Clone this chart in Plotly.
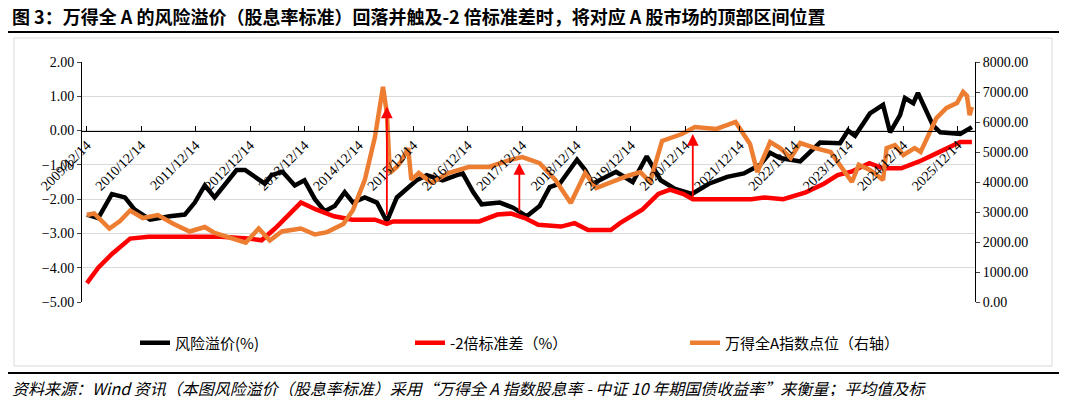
import plotly.graph_objects as go

rp_dates = ["2009-12-15","2010-03-01","2010-06-01","2010-08-27","2010-10-30","2011-02-12","2011-06-24","2011-10-03","2011-12-09",
"2012-02-14","2012-04-20","2012-06-26","2012-09-14","2012-11-10","2013-01-14","2013-03-23","2013-05-07","2013-07-20","2013-10-10",
"2013-12-14","2014-02-22","2014-04-29","2014-07-05","2014-09-10","2014-11-05","2015-01-23","2015-04-14","2015-06-20","2015-08-26",
"2015-10-30","2016-01-05","2016-03-14","2016-06-28","2016-10-02","2016-11-10","2017-01-20","2017-03-17","2017-07-17","2017-10-14",
"2018-01-14","2018-04-10","2018-06-17","2018-08-23","2018-12-17","2019-02-10","2019-04-01","2019-09-05","2019-12-26","2020-03-29",
"2020-07-01","2020-10-05","2021-01-26","2021-05-20","2021-09-20","2022-01-10","2022-04-28","2022-07-05","2022-09-10","2023-01-23",
"2023-06-05","2023-10-17","2023-12-10","2024-01-26","2024-05-05","2024-08-01","2024-09-17","2024-11-23","2024-12-26","2025-02-20",
"2025-03-23","2025-05-10","2025-07-02","2025-08-20","2026-01-01","2026-03-20"]
rp_vals = [-2.45,-2.55,-1.85,-1.95,-2.3,-2.6,-2.5,-2.45,-2.1,
-1.6,-1.95,-1.6,-1.15,-1.15,-1.35,-1.55,-1.3,-1.2,-1.6,
-1.45,-2.0,-2.35,-2.2,-1.8,-2.1,-1.95,-2.1,-2.65,-1.95,
-1.7,-1.45,-1.3,-1.45,-1.3,-1.25,-1.8,-2.15,-2.1,-2.25,
-2.5,-2.2,-1.65,-1.55,-0.85,-1.15,-1.55,-1.2,-1.5,-0.75,
-1.45,-1.7,-1.85,-1.55,-1.35,-1.25,-1.0,-0.65,-0.8,-0.9,
-0.35,-0.37,0.0,-0.15,0.5,0.75,-0.05,0.45,0.95,0.8,
1.1,0.65,0.15,-0.05,-0.1,0.1]

sd_dates = ["2009-12-15","2010-03-01","2010-06-01","2010-10-01","2011-02-01","2012-06-01","2012-12-01","2013-03-01","2013-06-01",
"2013-09-01","2013-11-20","2014-03-01","2014-07-01","2014-11-01","2015-04-01","2015-06-20","2015-08-01","2016-06-01","2017-03-01",
"2017-07-01","2017-10-01","2018-01-01","2018-04-01","2018-09-01","2018-12-01","2019-03-01","2019-08-01","2019-10-01","2020-03-01",
"2020-06-15","2020-09-01","2020-12-01","2021-02-01","2021-06-01","2022-03-01","2022-06-01","2022-10-01","2023-03-01","2023-07-01",
"2023-10-01","2024-01-01","2024-05-01","2024-08-01","2024-12-01","2025-04-01","2025-08-01","2025-11-01","2026-01-01","2026-03-20"]
sd_vals = [-4.45,-4.0,-3.6,-3.15,-3.1,-3.1,-3.15,-3.2,-2.85,
-2.45,-2.1,-2.3,-2.5,-2.6,-2.6,-2.72,-2.65,-2.65,-2.65,
-2.45,-2.42,-2.55,-2.75,-2.8,-2.7,-2.9,-2.9,-2.7,-2.3,
-1.85,-1.72,-1.85,-2.0,-2.0,-2.0,-1.95,-2.0,-1.8,-1.55,
-1.3,-1.2,-0.95,-1.1,-1.1,-0.9,-0.65,-0.45,-0.33,-0.33]

idx_dates = ["2009-12-15","2010-02-01","2010-05-15","2010-07-25","2010-10-01","2010-12-25","2011-04-05","2011-07-20","2011-11-05",
"2012-02-14","2012-04-20","2012-07-20","2012-11-15","2013-02-10","2013-04-25","2013-07-15","2013-11-20","2014-02-22","2014-05-15",
"2014-09-01","2014-11-05","2015-01-23","2015-04-01","2015-05-25","2015-06-20","2015-07-10","2015-08-26","2015-09-25","2015-11-10",
"2015-12-01","2016-01-20","2016-04-15","2016-08-05","2016-12-20","2017-05-05","2017-09-20","2017-12-15","2018-04-10","2018-07-25",
"2018-11-05","2019-02-10","2019-04-25","2019-08-05","2019-11-20","2020-02-15","2020-04-20","2020-07-10","2020-11-20","2021-02-15",
"2021-07-10","2021-11-15","2022-02-20","2022-04-10","2022-07-05","2022-09-10","2022-11-20","2023-01-23","2023-05-05","2023-08-15",
"2023-10-17","2024-01-05","2024-02-20","2024-05-05","2024-08-01","2024-08-25","2024-10-20","2024-12-15","2025-03-01","2025-04-10",
"2025-07-25","2025-10-01","2025-12-10","2026-01-20","2026-02-15","2026-03-05","2026-03-20"]
idx_vals = [2900,2950,2450,2700,3050,2800,2900,2600,2350,
2500,2300,2150,1980,2450,2050,2350,2450,2250,2330,
2600,3070,4070,5500,7170,6300,4300,4500,4700,5130,
4070,4300,3970,4300,4500,4500,4730,4830,4630,4070,
3300,4300,3800,4000,4200,4330,4000,5370,5600,5830,
5770,6000,5270,4330,5330,5130,4800,5300,5130,5000,
4570,4000,4570,4400,4070,5130,5230,4900,5130,5000,
6130,6470,6630,7000,6870,6230,6500]

tick_dates = [f"{y}-12-14" for y in range(2009, 2026)]
tick_text = [f"{y}/12/14" for y in range(2009, 2026)]

arrow_dates = ["2015-06-20", "2017-11-25", "2021-02-01"]
arrow_base = [-2.5, -2.4, -2.0]
arrow_tip = [0.7, -0.95, -0.1]

OFF = 8  # page body margin
W, H = 1067 - 2 * OFF, 404 - 2 * OFF
L, R, T, B = 82 - OFF, 975 - OFF, 62 - OFF, 302 - OFF
def px(x): return (x - OFF - L) / (R - L)
def py(y): return (B - (y - OFF)) / (B - T)

fig = go.Figure()
fig.add_trace(go.Scatter(x=rp_dates, y=rp_vals, name="风险溢价(%)", mode="lines",
                         line=dict(color="black", width=4.5)))
fig.add_trace(go.Scatter(x=sd_dates, y=sd_vals, name="-2倍标准差（%）", mode="lines",
                         line=dict(color="#ff0000", width=4.5)))
fig.add_trace(go.Scatter(x=idx_dates, y=idx_vals, name="万得全A指数点位（右轴）", mode="lines",
                         line=dict(color="#ed7d31", width=4.5), yaxis="y2"))

for d, b, t in zip(arrow_dates, arrow_base, arrow_tip):
    fig.add_annotation(x=d, y=t, ax=d, ay=b, xref="x", yref="y", axref="x", ayref="y",
                       text="", showarrow=True, arrowhead=2, arrowsize=1.3, arrowwidth=1.8,
                       arrowcolor="#ff0000")

serif = "Liberation Serif"
fig.update_layout(
    width=W, height=H, margin=dict(l=L, r=W - R, t=T, b=H - B, autoexpand=False),
    paper_bgcolor="white", plot_bgcolor="white",
    font=dict(family=serif, size=13, color="black"),
    xaxis=dict(type="date", range=["2009-11-12", "2026-04-10"], tickvals=tick_dates, ticktext=tick_text,
               tickangle=-45, anchor="free", position=5/7, showline=True, linecolor="black", linewidth=1,
               ticks="inside", ticklen=5, tickcolor="black", showgrid=False, zeroline=False,
               automargin=False, tickfont=dict(family=serif, size=14)),
    yaxis=dict(range=[-5, 2], dtick=1, tickformat=".2f", showline=True, linecolor="black",
               ticks="outside", ticklen=4, gridcolor="#d9d9d9", zeroline=False, automargin=False,
               tickfont=dict(family=serif, size=14)),
    yaxis2=dict(range=[0, 8000], dtick=1000, tickformat=".2f", overlaying="y", side="right",
                showline=True, linecolor="black", ticks="outside", ticklen=4, showgrid=False,
                zeroline=False, automargin=False, tickfont=dict(family=serif, size=14)),
    legend=dict(orientation="h", x=px(135), y=py(343), xanchor="left", yanchor="middle",
                entrywidth=230, entrywidthmode="pixels",
                font=dict(family="Noto Sans CJK SC", size=15)),
    showlegend=True,
)

fig.add_shape(type="rect", xref="paper", yref="paper", x0=px(14), x1=px(1052), y0=py(38), y1=py(366),
              line=dict(color="#d9d9d9", width=1), layer="below")
for yy in (32, 373):
    fig.add_shape(type="line", xref="paper", yref="paper", x0=px(8), x1=px(1060), y0=py(yy), y1=py(yy),
                  line=dict(color="black", width=2))

fig.add_annotation(xref="paper", yref="paper", x=px(10), y=py(16), xanchor="left", yanchor="middle",
                   showarrow=False,
                   text="<b>图 3：万得全 A 的风险溢价（股息率标准）回落并触及-2 倍标准差时，将对应 A 股市场的顶部区间位置</b>",
                   font=dict(family="Noto Sans CJK SC", size=18, color="black"))
fig.add_annotation(xref="paper", yref="paper", x=px(10), y=py(388), xanchor="left", yanchor="middle",
                   showarrow=False,
                   text="<i>资料来源：Wind 资讯（本图风险溢价（股息率标准）采用“万得全 A 指数股息率 - 中证 10 年期国债收益率”来衡量；平均值及标</i>",
                   font=dict(family="Noto Sans CJK SC", size=16, color="black"))

fig.write_html("out.html")
